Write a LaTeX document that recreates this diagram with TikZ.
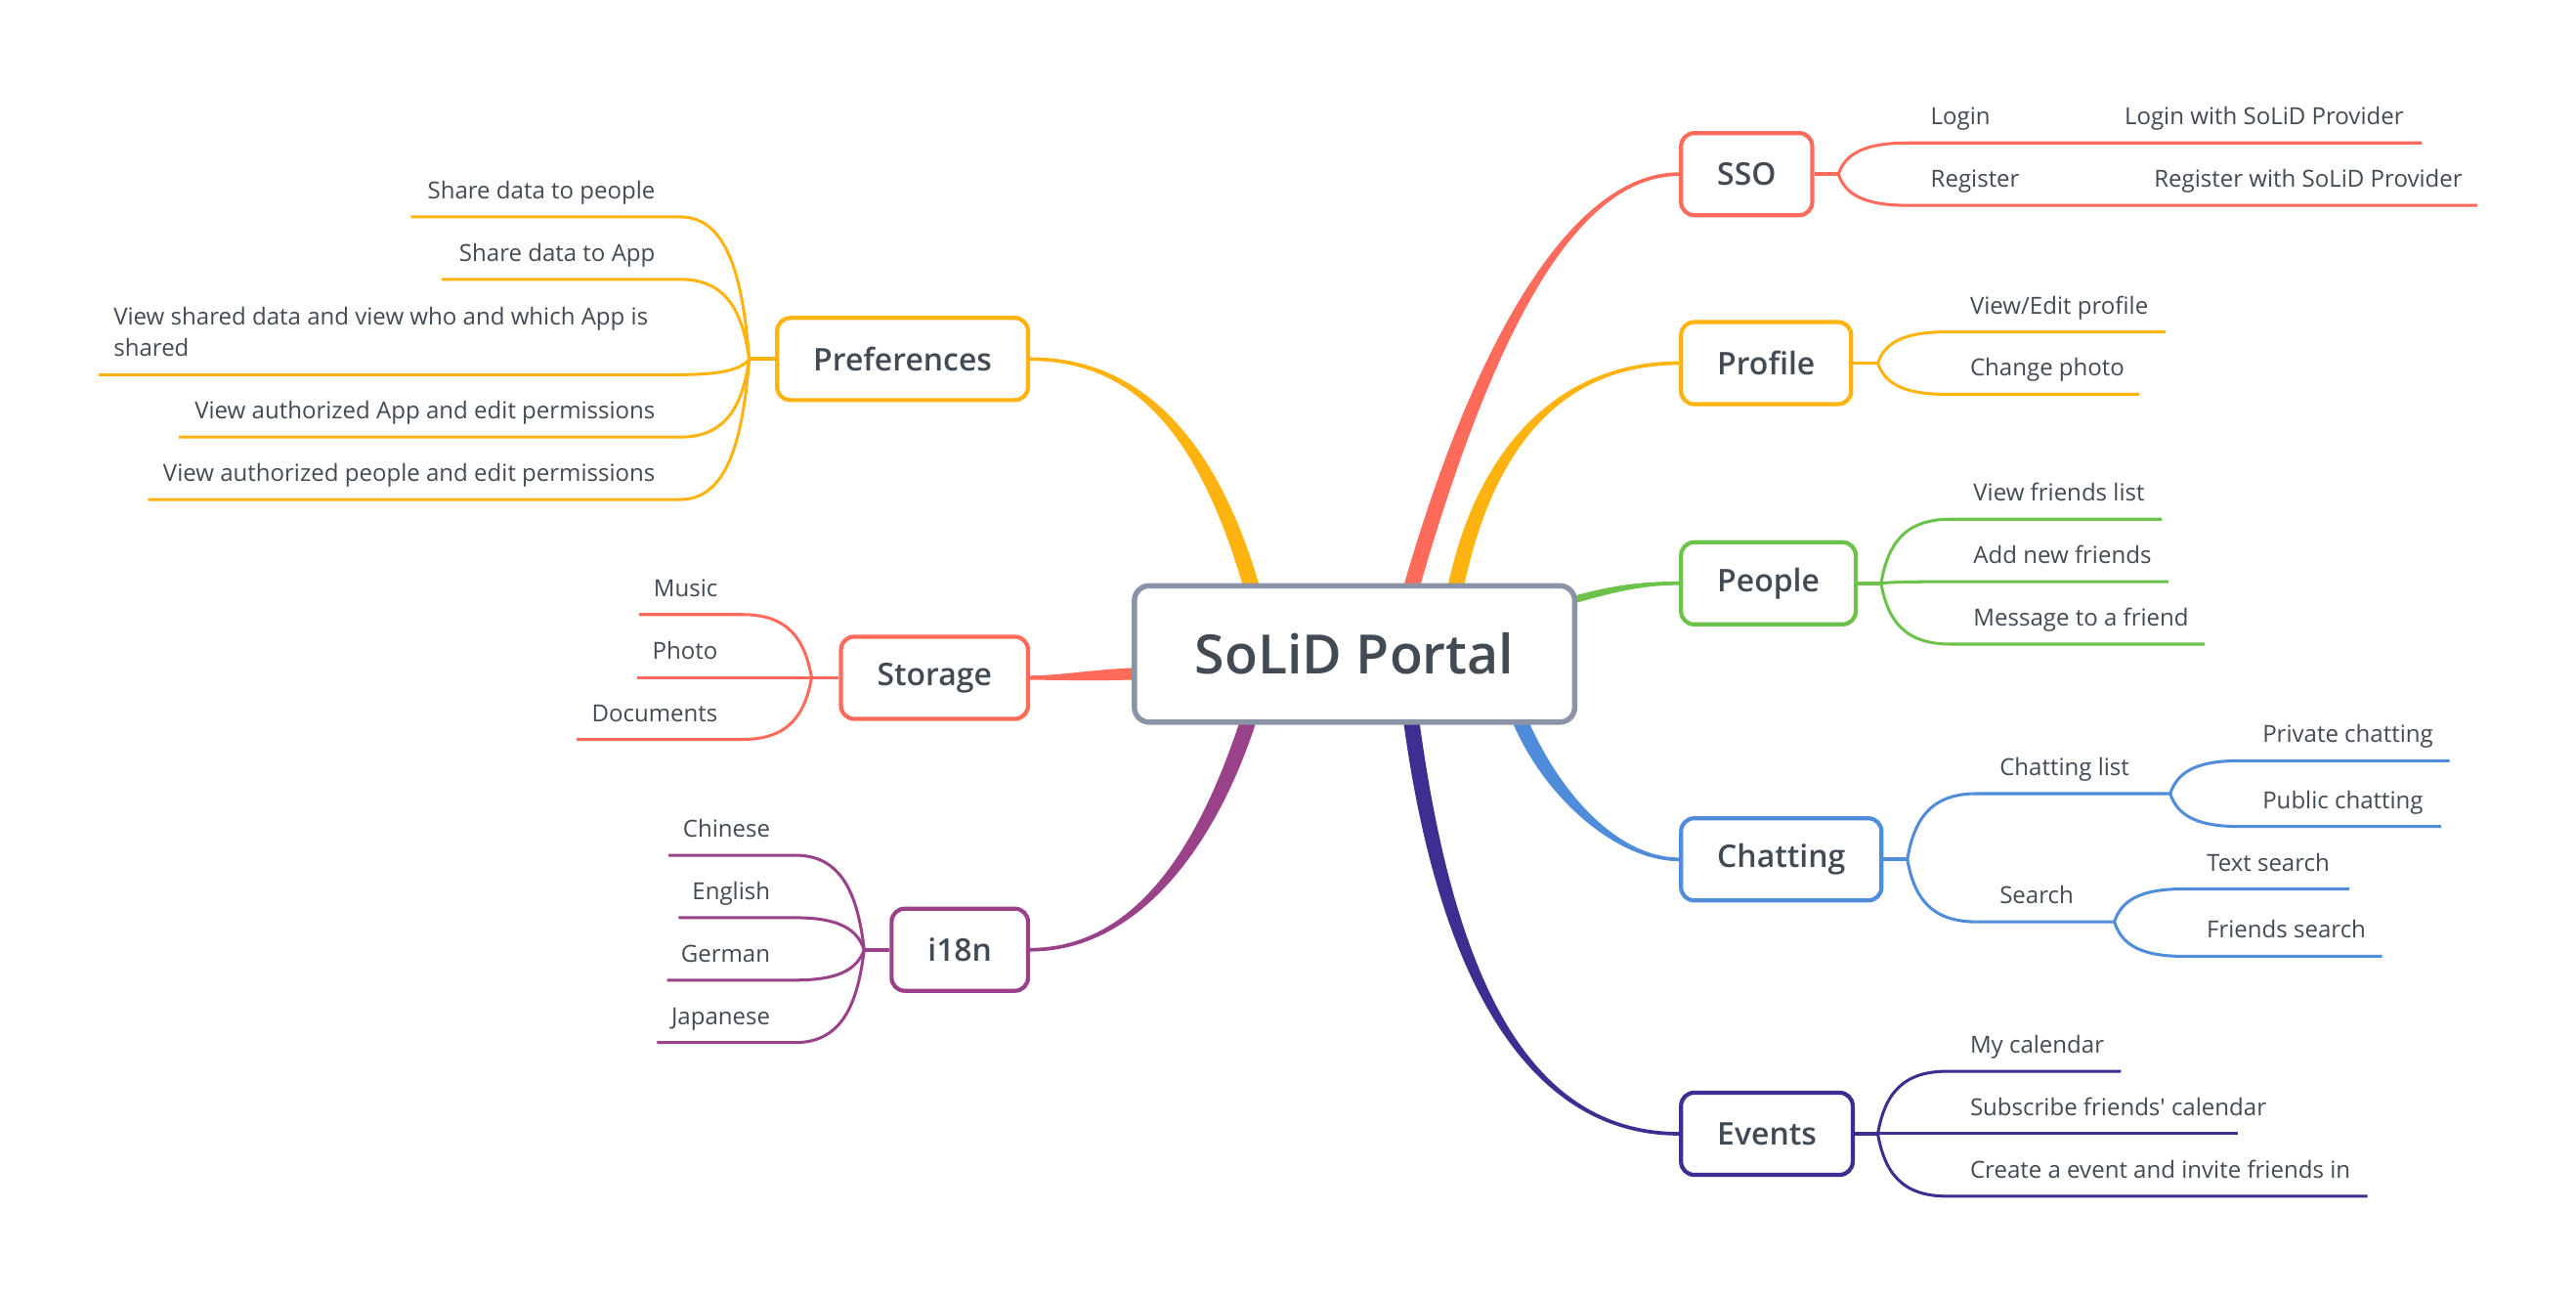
\documentclass[tikz,border=0pt]{standalone}
\usepackage{fontspec}
\setmainfont{Open Sans}[Ligatures=TeXOff]
\IfFontExistsTF{Open Sans SemiBold}{\newfontfamily\semib{Open Sans SemiBold}[Ligatures=TeXOff]}{%
 \IfFontExistsTF{Open Sans Semibold}{\newfontfamily\semib{Open Sans Semibold}[Ligatures=TeXOff]}{%
  \newfontfamily\semib{Open Sans}[FakeBold=1.2,Ligatures=TeXOff]}}
\usetikzlibrary{calc}
\pgfdeclarelayer{bg}
\pgfsetlayers{bg,main}
\definecolor{cred}{HTML}{FF6B5A}
\definecolor{cyel}{HTML}{FFB30F}
\definecolor{cgrn}{HTML}{6CC24A}
\definecolor{cblu}{HTML}{4F8CD9}
\definecolor{cnav}{HTML}{3F2D91}
\definecolor{cpur}{HTML}{99428A}
\definecolor{cgray}{HTML}{8A94A6}
\definecolor{txt}{HTML}{424B54}
\tikzset{
  topic/.style={draw=#1, rounded corners=8pt, line width=2.5pt, fill=white,
    minimum height=50pt, inner xsep=22pt, text=txt, font=\semib\fontsize{19}{23}\selectfont},
  central/.style={draw=cgray, rounded corners=9pt, line width=3.2pt, fill=white,
    minimum height=83pt, minimum width=268pt, text=txt, font=\semib\fontsize{33}{40}\selectfont},
  leaf/.style={inner sep=0pt, text=txt, font=\fontsize{14.3}{19}\selectfont},
  sub/.style={line width=1.8pt, line cap=butt},
  stub/.style={line width=2.2pt},
}
% tapered main connector: colour, start, c1, c2, end, half width start, half width end
\newcommand\taper[7]{%
  \path ($(#2)!#6!90:#3$) coordinate (tl) ($(#2)!#6!-90:#3$) coordinate (tr)
        ($(#5)!#7!-90:#4$) coordinate (el) ($(#5)!#7!90:#4$) coordinate (er);
  \path ($#3+(tl)-(#2)$) coordinate (c1l) ($#3+(tr)-(#2)$) coordinate (c1r)
        ($#4+(el)-(#5)$) coordinate (c2l) ($#4+(er)-(#5)$) coordinate (c2r);
  \fill[#1] (tl) .. controls (c1l) and (c2l) .. (el) -- (er) .. controls (c2r) and (c1r) .. (tr) -- cycle;
}
% right leaf: colour, split x, split y, line y, end x, name, text
\newcommand\rleaf[7]{%
  \draw[#1, sub] (#2,#3) .. controls ({#2+4},{#3+0.6*(#4-#3)}) and ({#2+14},#4) .. ({#2+42},#4)
     coordinate (#6-a) -- (#5,#4) coordinate (#6-b);
  \node[leaf, anchor=base west] (#6) at ({#2+56},{#4-11}) {#7};
}
% left leaf: colour, split x, split y, line y, start x, name, text
\newcommand\lleaf[7]{%
  \draw[#1, sub] (#2,#3) .. controls ({#2-4},{#3+0.6*(#4-#3)}) and ({#2-14},#4) .. ({#2-42},#4)
     coordinate (#6-a) -- (#5,#4) coordinate (#6-b);
  \node[leaf, anchor=base east] (#6) at ({#2-57},{#4-11}) {#7};
}
\begin{document}
\begin{tikzpicture}[x=1pt, y=-1pt]
\useasboundingbox (0,0) rectangle (1568,788.8);

% start points on the central topic
\coordinate (c-sso) at (859,358);
\coordinate (c-pro) at (886,358);
\coordinate (c-peo) at (958,365);
\coordinate (c-cha) at (925,438);
\coordinate (c-eve) at (859,438);
\coordinate (c-pre) at (762,358);
\coordinate (c-sto) at (692,410);
\coordinate (c-i18) at (760,438);

% topics
\node[central] (root) at (824.5,398) {SoLiD Portal};
\node[topic=cred, anchor=west] (sso) at (1022,106) {SSO};
\node[topic=cyel, anchor=west] (pro) at (1022,221) {Profile};
\node[topic=cgrn, anchor=west] (peo) at (1022,355) {People};
\node[topic=cblu, anchor=west] (cha) at (1022,523) {Chatting};
\node[topic=cnav, anchor=west] (eve) at (1022,690) {Events};
\node[topic=cyel, anchor=east] (pre) at (627,218.5) {Preferences};
\node[topic=cred, anchor=east] (sto) at (627,412.5) {Storage};
\node[topic=cpur, anchor=east] (i18) at (627,578) {i18n};

% background and main connectors
\begin{pgfonlayer}{bg}
\fill[white] (0,0) rectangle (1568,788.8);
\taper{cred}{c-sso}{(903,205)}{(958,106)}{sso.west}{4.8pt}{1.1pt}
\taper{cyel}{c-pro}{(903,275)}{(948,221)}{pro.west}{4.8pt}{1.1pt}
\taper{cgrn}{c-peo}{(983,358)}{(1000,355)}{peo.west}{2.2pt}{1.1pt}
\taper{cblu}{c-cha}{(945,485)}{(985,523)}{cha.west}{4.6pt}{1.1pt}
\taper{cnav}{c-eve}{(880,595)}{(930,690)}{eve.west}{4.8pt}{1.1pt}
\taper{cyel}{c-pre}{(735,265)}{(692,218.5)}{pre.east}{4.8pt}{1.1pt}
\taper{cred}{c-sto}{(665,411)}{(645,412.5)}{sto.east}{3.6pt}{1.3pt}
\taper{cpur}{c-i18}{(735,515)}{(692,578)}{i18.east}{4.8pt}{1.1pt}
\end{pgfonlayer}

% SSO
\coordinate (sso-s) at (1119,106);
\draw[cred, stub] (sso.east) -- (sso-s);
\rleaf{cred}{1119}{106}{87}{1474}{login}{Login}
\rleaf{cred}{1119}{106}{125}{1508}{register}{Register}
\node[leaf, anchor=base west] (loginsp) at (1293,76) {Login with SoLiD Provider};
\node[leaf, anchor=base west] (registersp) at (1311,114) {Register with SoLiD Provider};

% Profile
\coordinate (pro-s) at (1143,221);
\draw[cyel, stub] (pro.east) -- (pro-s);
\rleaf{cyel}{1143}{221}{202}{1318}{viewedit}{View/Edit profile}
\rleaf{cyel}{1143}{221}{240}{1302}{chphoto}{Change photo}

% People
\coordinate (peo-s) at (1145,355);
\draw[cgrn, stub] (peo.east) -- (peo-s);
\rleaf{cgrn}{1145}{355}{316}{1316}{flist}{View friends list}
\rleaf{cgrn}{1145}{355}{354}{1320}{fadd}{Add new friends}
\rleaf{cgrn}{1145}{355}{392}{1342}{fmsg}{Message to a friend}

% Chatting
\coordinate (cha-s) at (1161,523);
\draw[cblu, stub] (cha.east) -- (cha-s);
\rleaf{cblu}{1161}{523}{483}{1321}{clist}{Chatting list}
\rleaf{cblu}{1161}{523}{561}{1287}{csearch}{Search}
\rleaf{cblu}{1321}{483}{463}{1491}{cpriv}{Private chatting}
\rleaf{cblu}{1321}{483}{503}{1486}{cpub}{Public chatting}
\rleaf{cblu}{1287}{561}{541}{1430}{ctext}{Text search}
\rleaf{cblu}{1287}{561}{582}{1450}{cfriend}{Friends search}

% Events
\coordinate (eve-s) at (1143,690);
\draw[cnav, stub] (eve.east) -- (eve-s);
\rleaf{cnav}{1143}{690}{652}{1291}{ecal}{My calendar}
\rleaf{cnav}{1143}{690}{690}{1362}{esub}{Subscribe friends' calendar}
\rleaf{cnav}{1143}{690}{728}{1441}{ecre}{Create a event and invite friends in}

% Preferences
\coordinate (pre-s) at (456,218.5);
\draw[cyel, stub] (pre.west) -- (pre-s);
\lleaf{cyel}{456}{218.5}{132}{250}{pshp}{Share data to people}
\lleaf{cyel}{456}{218.5}{170}{269}{psha}{Share data to App}
\draw[cyel, sub] (pre-s) .. controls (452,224) and (442,228) .. (414,228) coordinate (pview-a) -- (60,228) coordinate (pview-b);
\node[leaf, anchor=north west, align=left] (pview) at (69,187) {View shared data and view who and which App is\\shared};
\lleaf{cyel}{456}{218.5}{266}{109}{pauta}{View authorized App and edit permissions}
\lleaf{cyel}{456}{218.5}{304}{90}{pautp}{View authorized people and edit permissions}

% Storage
\coordinate (sto-s) at (494,412.5);
\draw[cred, stub] (sto.west) -- (sto-s);
\lleaf{cred}{494}{412.5}{374}{389}{smus}{Music}
\lleaf{cred}{494}{412.5}{412.5}{388}{spho}{Photo}
\lleaf{cred}{494}{412.5}{450}{351}{sdoc}{Documents}

% i18n
\coordinate (i18-s) at (526,578);
\draw[cpur, stub] (i18.west) -- (i18-s);
\lleaf{cpur}{526}{578}{520.5}{407}{lch}{Chinese}
\lleaf{cpur}{526}{578}{558.5}{413}{len}{English}
\lleaf{cpur}{526}{578}{596.5}{406}{lde}{German}
\lleaf{cpur}{526}{578}{634.5}{400}{lja}{Japanese}
\end{tikzpicture}
\end{document}
